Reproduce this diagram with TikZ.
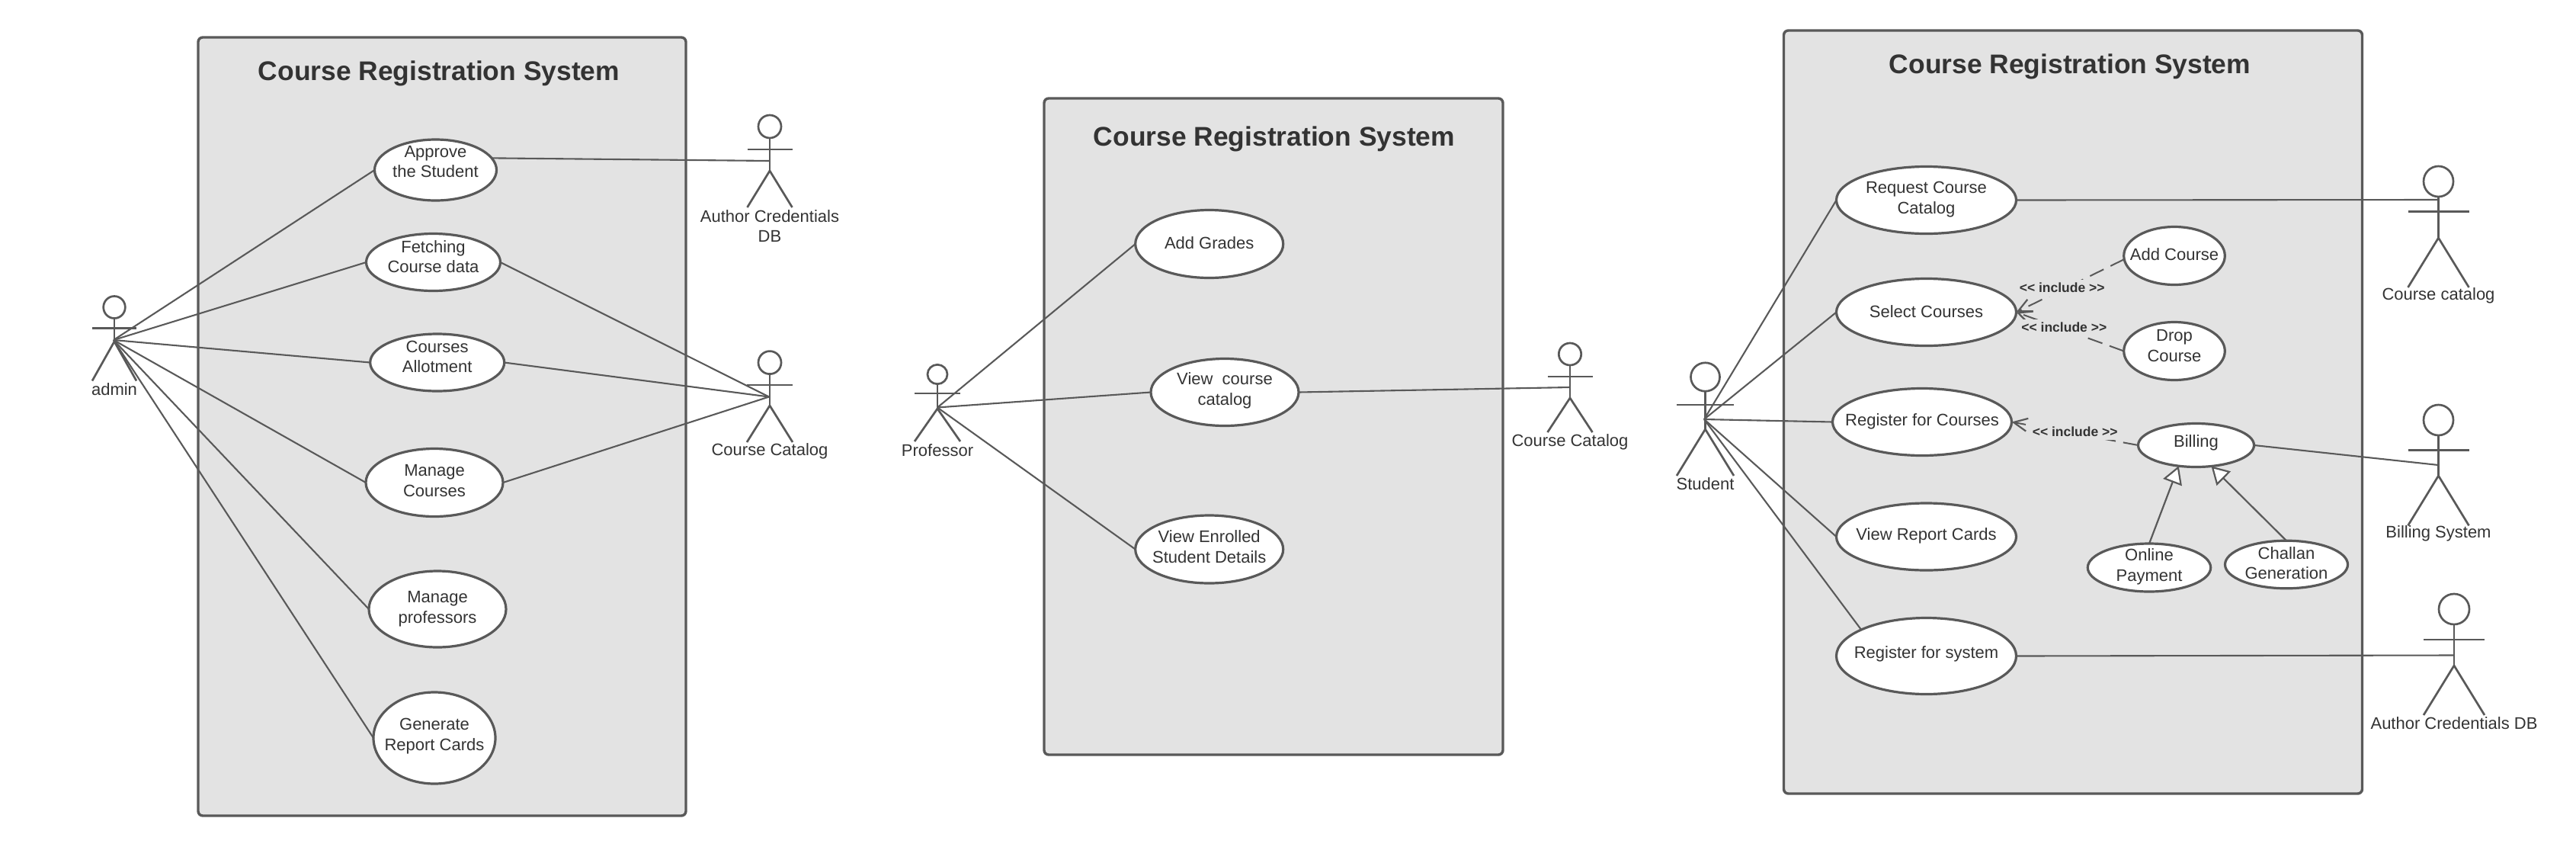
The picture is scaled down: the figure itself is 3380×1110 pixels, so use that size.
\documentclass[tikz,border=0pt]{standalone}
\usepackage{fontspec}
\setmainfont{Liberation Sans}
\usetikzlibrary{shapes.geometric,arrows.meta}
\definecolor{lineC}{HTML}{595959}
\definecolor{panelC}{HTML}{E3E3E3}
\definecolor{textC}{HTML}{333333}
\tikzset{
  panelbox/.style={draw=lineC,fill=panelC,line width=1.7pt,rounded corners=3pt,outer sep=0pt,inner sep=0pt},
  paneltitle/.style={font=\fontsize{17.7}{21}\selectfont\bfseries,text=textC,inner sep=0pt},
  usecase/.style={ellipse,draw=lineC,fill=white,line width=1.6pt,inner sep=0pt,outer sep=0pt},
  uctext/.style={font=\fontsize{11}{13.25}\selectfont,text=textC,align=center,inner sep=0pt},
  actorline/.style={draw=lineC,line width=1.35pt},
  assoc/.style={draw=lineC,line width=1.05pt},
  inc/.style={draw=lineC,line width=1pt,dash pattern=on 10pt off 5pt,-{Straight Barb[length=9pt,width=8.5pt,line width=1.1pt]}},
  incl/.style={font=\fontsize{8.75}{10}\selectfont\bfseries,text=textC,fill=panelC,inner sep=0pt,minimum height=11pt},
  gen/.style={draw=lineC,line width=1.1pt,-{Triangle[fill=white,length=11.5pt,width=13pt,line width=1.1pt]}}
}
% name, cx, cy, rx, ry, text y, text
\newcommand{\ucase}[7]{%
  \node[usecase,minimum width=#4pt,minimum height=#5pt] (#1) at (#2,#3) {};
  \node[uctext] (#1-t) at (#2,#6) {#7};
}
% name, cx, head cy, head rx, head ry, half width, arm y, hip y, foot y
\newcommand{\actorfig}[9]{%
  \node[ellipse,draw=lineC,line width=1.35pt,inner sep=0pt,outer sep=0pt,minimum width=#4pt,minimum height=#5pt] (#1) at (#2,#3) {};
  \coordinate (#1-hip) at (#2,#8);
  \coordinate (#1-al) at ({#2-#6},#7);
  \coordinate (#1-ar) at ({#2+#6},#7);
  \coordinate (#1-fl) at ({#2-#6},#9);
  \coordinate (#1-fr) at ({#2+#6},#9);
  \draw[actorline] (#1.south) -- (#1-hip);
  \draw[actorline] (#1-al) -- (#1-ar);
  \draw[actorline] (#1-fl) -- (#1-hip) -- (#1-fr);
}
\begin{document}
\begin{tikzpicture}[x=0.5pt,y=-0.5pt]
\useasboundingbox (0,0) rectangle (3380,1110);
% panels
\node[panelbox,minimum width=320pt,minimum height=510.5pt,anchor=north west] (p1) at (260,49) {};
\node[panelbox,minimum width=301pt,minimum height=430.5pt,anchor=north west] (p2) at (1370,129) {};
\node[panelbox,minimum width=379.5pt,minimum height=500.5pt,anchor=north west] (p3) at (2340.5,40) {};
\node[paneltitle] (p1-title) at (576,96) {Course Registration System};
\node[paneltitle] (p2-title) at (1672,182) {Course Registration System};
\node[paneltitle] (p3-title) at (2716,87) {Course Registration System};
% actors
\actorfig{admin}{150}{403}{14.3}{14.5}{29}{430.5}{448}{499.5}
\coordinate (admin-c) at (149,446);
\node[uctext] (admin-l) at (150,511) {admin};
\actorfig{authA}{1010}{166}{15}{15}{29.5}{196}{224}{272}
\coordinate (authA-c) at (1010,211);
\node[uctext] (authA-l) at (1010,296.5) {Author Credentials\\DB};
\actorfig{catA}{1010}{475.6}{15}{15}{30}{505}{532}{580}
\coordinate (catA-c) at (1009,520.5);
\node[uctext] (catA-l) at (1010,592) {Course Catalog};
\actorfig{prof}{1230}{491}{13}{12.7}{30}{516}{536}{579}
\coordinate (prof-c) at (1230,534.5);
\node[uctext] (prof-l) at (1230,591) {Professor};
\actorfig{catB}{2060}{464.5}{14.7}{14.5}{29.5}{494}{522}{567}
\coordinate (catB-c) at (2060,508);
\node[uctext] (catB-l) at (2060,579.5) {Course Catalog};
\actorfig{student}{2237.5}{494.5}{19}{18.7}{37.5}{531}{563}{624}
\coordinate (student-c) at (2236,550);
\node[uctext] (student-l) at (2237.5,635) {Student};
\actorfig{catC}{3199.5}{238}{19.5}{20}{40}{277.5}{312}{377}
\coordinate (catC-c) at (3200,262);
\node[uctext] (catC-l) at (3199.5,388) {Course catalog};
\actorfig{bill}{3199.5}{551}{19.5}{20}{40}{590.7}{624}{689.4}
\coordinate (bill-c) at (3199.5,610);
\node[uctext] (bill-l) at (3199.5,700) {Billing System};
\actorfig{authC}{3220}{799}{20}{20}{40}{839}{873}{938}
\coordinate (authC-c) at (3220,859.5);
\node[uctext] (authC-l) at (3220,948.5) {Author Credentials DB};
% use cases
\ucase{approve}{571.5}{223}{80}{40}{212}{Approve\\the Student}
\ucase{fetch}{568.5}{344}{88}{37.5}{336.7}{Fetching\\Course data}
\ucase{allot}{573.7}{475.5}{88}{37.5}{468}{Courses\\Allotment}
\ucase{mcourses}{570}{633}{90}{44.5}{630.5}{Manage\\Courses}
\ucase{mprof}{574}{799}{90}{50}{798.5}{Manage\\professors}
\ucase{report}{570}{968}{80}{60}{965.5}{Generate\\Report Cards}
\ucase{grades}{1586.7}{320}{97}{44.5}{319}{Add Grades}
\ucase{vcat}{1607}{514.5}{97}{44}{512.5}{View\ \ course\\catalog}
\ucase{venr}{1586.7}{720.5}{97}{44.5}{717}{View Enrolled\\Student Details}
\ucase{reqcat}{2527.5}{262.5}{118}{44}{261.5}{Request Course\\Catalog}
\ucase{select}{2527.5}{409.5}{118}{44}{408.5}{Select Courses}
\ucase{regc}{2522}{553.5}{117.5}{44}{552.5}{Register for Courses}
\ucase{vrep}{2527.5}{704}{118}{44}{703}{View Report Cards}
\ucase{regs}{2527.5}{860.5}{118}{50}{858}{Register for system}
\ucase{addc}{2853}{335.5}{66.3}{38}{333.5}{Add Course}
\ucase{dropc}{2853}{460.5}{66.3}{38}{453.5}{Drop\\Course}
\ucase{billing}{2881.5}{584}{76}{28.5}{581}{Billing}
\ucase{online}{2820}{744.5}{80.7}{31.5}{743.5}{Online\\Payment}
\ucase{challan}{3000}{740.5}{80.5}{31.3}{738.5}{Challan\\Generation}
% associations
\foreach \t in {approve,fetch,allot,mcourses,mprof,report}
  \draw[assoc] (admin-c) -- (\t.west);
\draw[assoc] (approve.12) -- (authA-c);
\foreach \t in {fetch,allot,mcourses}
  \draw[assoc] (\t.east) -- (catA-c);
\foreach \t in {grades,vcat,venr}
  \draw[assoc] (prof-c) -- (\t.west);
\draw[assoc] (vcat.east) -- (catB-c);
\foreach \t in {reqcat,select,regc,vrep}
  \draw[assoc] (student-c) -- (\t.west);
\draw[assoc] (student-c) -- (regs.158);
\draw[assoc] (reqcat.east) -- (catC-c);
\draw[assoc] (billing.east) -- (bill-c);
\draw[assoc] (regs.east) -- (authC-c);
% include
\draw[inc] (addc.184) -- (select.east);
\draw[inc] (dropc.west) -- (select.east);
\draw[inc] (billing.west) -- (regc.east);
\node[incl] (inc1) at (2705.7,377.5) {<{}< include >{}>};
\node[incl] (inc2) at (2708.3,429.5) {<{}< include >{}>};
\node[incl] (inc3) at (2722.7,566) {<{}< include >{}>};
% generalisation
\draw[gen] (online.north) -- (billing.230);
\draw[gen] (challan.north) -- (billing.306);
\end{tikzpicture}
\end{document}
